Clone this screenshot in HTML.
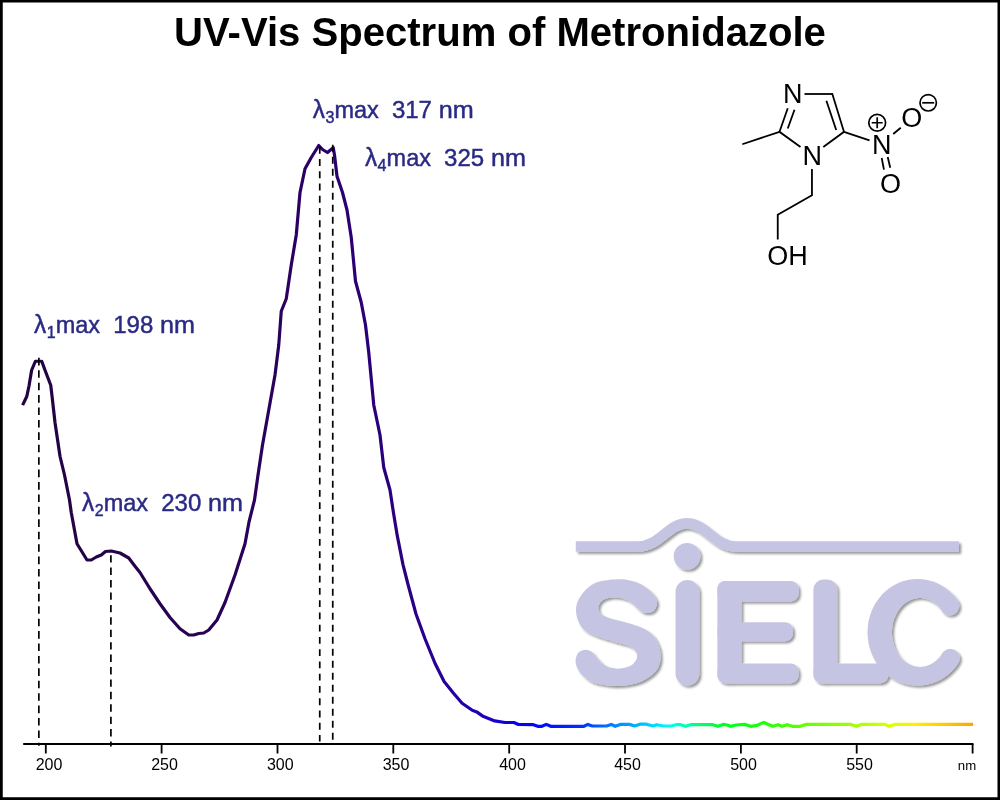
<!DOCTYPE html>
<html><head><meta charset="utf-8">
<style>
html,body{margin:0;padding:0;background:#fff;}
body{width:1000px;height:800px;overflow:hidden;position:relative;font-family:"Liberation Sans",sans-serif;}
svg{position:absolute;left:0;top:0;will-change:transform;}
text{font-family:"Liberation Sans",sans-serif;}
.lbl text{fill:#2a2a84;font-size:22.5px;stroke:#2a2a84;stroke-width:0.45px;}
.lbl .sub{font-size:16px;}
.ax text{font-size:16px;fill:#000;text-anchor:middle;}
.mol line,.mol polyline{stroke:#000;stroke-width:1.8;fill:none;stroke-linecap:butt;}
.mol text{font-size:27px;fill:#000;text-anchor:middle;}
.dash line{stroke:#000;stroke-width:1.7;}
</style></head><body>
<svg width="1000" height="800" viewBox="0 0 1000 800">
<defs>
<linearGradient id="sp" gradientUnits="userSpaceOnUse" x1="0" y1="0" x2="1000" y2="0">
<stop offset="0" stop-color="#22033f"/>
<stop offset="0.15" stop-color="#26024e"/>
<stop offset="0.29" stop-color="#2b005f"/>
<stop offset="0.41" stop-color="#2a0085"/>
<stop offset="0.45" stop-color="#2400a0"/>
<stop offset="0.485" stop-color="#1c00c0"/>
<stop offset="0.51" stop-color="#1000e0"/>
<stop offset="0.525" stop-color="#0600fa"/>
<stop offset="0.55" stop-color="#0410ff"/>
<stop offset="0.58" stop-color="#0030ff"/>
<stop offset="0.60" stop-color="#0060ff"/>
<stop offset="0.62" stop-color="#0090ff"/>
<stop offset="0.64" stop-color="#00b8ff"/>
<stop offset="0.66" stop-color="#00e8ff"/>
<stop offset="0.672" stop-color="#00ffe8"/>
<stop offset="0.69" stop-color="#00ffa0"/>
<stop offset="0.705" stop-color="#00ff60"/>
<stop offset="0.725" stop-color="#00ff20"/>
<stop offset="0.76" stop-color="#18ff08"/>
<stop offset="0.80" stop-color="#60ff00"/>
<stop offset="0.857" stop-color="#a8ff00"/>
<stop offset="0.892" stop-color="#e0ff00"/>
<stop offset="0.915" stop-color="#fff000"/>
<stop offset="0.94" stop-color="#ffd000"/>
<stop offset="0.973" stop-color="#ffa500"/>
</linearGradient>
<filter id="sh" x="-5%" y="-5%" width="110%" height="110%">
<feDropShadow dx="2.2" dy="2.2" stdDeviation="1.3" flood-color="#000" flood-opacity="0.4"/>
</filter>
</defs>
<rect x="0" y="0" width="1000" height="800" fill="#fff"/>
<!-- border -->
<path d="M0 0H1000V800H0Z M2.75 2.5V797.25H997.5V2.5Z" fill="#000" fill-rule="evenodd"/>
<!-- LOGO -->
<g id="logo" filter="url(#sh)" fill="none" stroke="#c5c5e3" stroke-linecap="round" stroke-linejoin="round">
<path d="M575.75 546.5H637C660 546.5 668 523.25 687 523.25C706 523.25 714 546.5 737 546.5H959" stroke-width="10.5" stroke-linecap="butt"/>
<circle cx="687" cy="556.25" r="13.3" fill="#c5c5e3" stroke="none"/>
<line x1="687.4" y1="591.9" x2="687.4" y2="673.6" stroke-width="23.75"/>
<path id="S" d="M617.0 579.3C622.4 579.0 625.9 579.6 630.0 580.4C634.1 581.3 637.6 582.3 641.4 584.5C645.2 586.7 650.1 590.5 652.7 593.4C655.3 596.4 656.6 599.5 657.0 602.0C657.4 604.6 656.3 607.1 655.2 608.9C654.1 610.6 652.1 611.8 650.3 612.4C648.5 613.1 646.3 613.2 644.6 612.9C642.9 612.7 641.4 611.7 640.1 610.8C638.7 609.9 638.2 609.1 636.5 607.6C634.8 606.0 632.7 603.2 630.0 601.6C627.3 599.9 623.5 598.5 620.2 597.8C617.0 597.1 613.6 597.0 610.5 597.5C607.4 598.0 603.6 599.2 601.6 601.1C599.5 602.9 598.3 606.3 598.3 608.5C598.3 610.8 599.5 612.9 601.6 614.6C603.6 616.2 606.3 617.3 610.5 618.6C614.7 620.0 621.6 621.2 626.7 622.7C631.9 624.2 637.0 625.5 641.4 627.6C645.7 629.6 649.8 631.8 652.7 634.9C655.7 638.0 657.6 642.6 658.9 646.2C660.2 649.9 660.5 653.6 660.5 656.8C660.5 660.1 660.2 662.8 658.9 665.7C657.6 668.6 656.2 671.3 652.7 674.2C649.3 677.0 644.1 680.8 638.1 682.8C632.2 684.8 624.3 686.0 617.0 686.0C609.7 686.0 599.9 684.6 594.2 682.8C588.6 681.0 585.7 678.0 582.9 675.5C580.0 673.0 578.4 670.3 577.2 667.7C576.0 665.1 575.4 662.5 575.6 660.1C575.8 657.6 576.7 654.4 578.3 652.7C579.9 651.0 583.1 650.0 585.3 649.8C587.6 649.7 590.0 650.8 591.8 651.9C593.6 653.1 594.5 655.3 595.9 656.8C597.2 658.3 598.0 659.2 599.9 660.9C601.8 662.5 604.1 665.3 607.2 666.6C610.4 667.9 614.8 668.7 618.6 668.7C622.4 668.6 627.0 667.6 630.0 666.1C633.0 664.5 635.4 661.5 636.5 659.2C637.6 657.0 637.2 654.6 636.5 652.7C635.8 650.8 634.3 649.2 632.4 647.9C630.5 646.5 628.2 645.7 625.1 644.6C622.0 643.5 618.3 642.7 613.7 641.4C609.1 640.0 602.4 638.4 597.5 636.5C592.6 634.6 587.7 632.7 584.5 630.0C581.2 627.3 579.4 623.8 578.0 620.2C576.6 616.7 575.9 612.4 576.0 608.9C576.2 605.3 577.1 602.4 578.8 599.1C580.5 595.9 583.0 592.2 586.1 589.4C589.2 586.5 592.4 583.7 597.5 582.1C602.6 580.4 611.6 579.6 617.0 579.3Z" fill="#c5c5e3" stroke="none"/>
<g fill="#c5c5e3" stroke="none">
<rect x="717.4" y="581" width="24" height="102.2" rx="8"/>
<rect x="717.4" y="581" width="81.2" height="20.4" rx="8"/>
<rect x="717.4" y="622.2" width="75.6" height="19" rx="8"/>
<rect x="717.4" y="663.5" width="81.2" height="19.7" rx="8"/>
<rect x="813.4" y="579.6" width="23.8" height="103.6" rx="10"/>
<rect x="813.4" y="663.6" width="75" height="19.6" rx="8"/>
</g>
<mask id="cm" stroke="none" maskUnits="userSpaceOnUse" x="850" y="560" width="130" height="140"><rect x="850" y="560" width="130" height="140" fill="#fff"/><ellipse cx="920.0" cy="632.4" rx="28.2" ry="34.6" fill="#000"/><polygon points="920,632.3 1009.6,552.5 1011.1,710.4" fill="#000"/></mask>
<g fill="#c5c5e3" stroke="none"><ellipse cx="917.5" cy="632.25" rx="50" ry="53.25" mask="url(#cm)"/><circle cx="949.84" cy="605.74" r="9.44"/><circle cx="950.28" cy="658.24" r="9.38"/></g>
</g>
<!-- title -->
<text id="title" x="500" y="45.5" text-anchor="middle" font-weight="bold" font-size="40.1" fill="#000">UV-Vis Spectrum of Metronidazole</text>
<!-- curve -->
<polyline id="curve" points="22.6,405.1 26.75,396.5 29,386 31.6,370.25 35.4,361.25 41.75,361.25 44.75,369.5 50.75,385.25 52.25,398 55,422.5 60,456.25 64.5,475 69.5,500 71.25,512.5 77,543.75 87,560 91.25,560 96.25,557 101.25,555 105.5,551.5 111.25,551 120,553 128.75,558 135,566.25 140,572.5 150,588.75 160,603.75 170,617.5 180,628.75 188.75,635 193.75,635 198.75,633.5 203.75,633 208.75,630 217,620 225,602.5 235,575 245,543.75 249,522 254.5,500 258,475 262.5,445 268.75,410 275,375 278.75,345 281.25,311.25 286.25,298.75 291.25,265 296.25,235 300,192.5 305,168.75 311.25,157.5 318.75,145.5 322.5,149.5 327.5,152.5 333.2,147.6 334.5,155 337,176.25 342.5,192.5 347,210 351.25,237.5 355.5,281.25 361.25,302.5 365.5,325 368.75,352.5 373.75,405 380,435 383.75,467.5 390,490 393.5,513 397.3,535.9 403,564.6 408.1,584.75 416,614 425,638.75 435.1,663.5 444.1,681.5 453.1,692.75 462.1,703.3 472.25,710.3 476.75,711.9 482.4,715.9 494.75,720.9 504.9,722.5 513.9,722.5 518.4,724.5 533.3,724.7 537.7,726.3 541.9,726.3 546.3,724.4 550.7,726.3 584,726.3 587.9,724.4 592.3,726 606.6,726 611.3,724.4 615.2,726.3 620.4,724.4 629.5,724.4 634.7,726 639.9,724.2 646.4,724.2 652.9,726 656.8,724.7 663.3,726 671.1,726 676.3,724.7 680.7,724.7 685.4,726.3 690.6,724.7 712.7,724.7 717.9,726.3 723.1,724.4 727,725 730.9,726.3 736.1,725 744.3,724.4 750.8,726.3 756,725.7 763.8,722.4 769,724.7 772.9,726.3 778.1,724.7 782,726.3 787.2,724.7 792.4,726.3 800.2,726.3 806.7,724.4 850.9,724.4 856.6,726.3 861.3,724.4 884.7,724.4 889.1,726.3 895.1,724.4 973.1,724.4" fill="none" stroke="url(#sp)" stroke-width="3.2" stroke-linejoin="round" stroke-linecap="butt"/>
<!-- dashed -->
<g class="dash">
<line x1="38.85" y1="357.83" x2="38.85" y2="745.8" stroke-dasharray="7.6 4.82"/>
<line x1="110.9" y1="555.2" x2="110.9" y2="746.5" stroke-dasharray="7.4 5.02"/>
<line x1="319.75" y1="146.75" x2="319.75" y2="741.5" stroke-dasharray="6.9 5.355"/>
<line x1="332.75" y1="144.75" x2="332.75" y2="739.8" stroke-dasharray="7 5"/>
</g>
<!-- axis -->
<g class="ax" stroke="none">
<path d="M23.2 744H973.5" stroke="#000" stroke-width="1.8" fill="none"/>
<path d="M45.8 744V753.6M161.6 744V753.6M277.5 744V753.6M393.3 744V753.6M509.2 744V753.6M625 744V753.6M740.9 744V753.6M856.7 744V753.6M972.6 744V753.6" stroke="#000" stroke-width="1.8" fill="none"/>
<text x="49" y="769.8">200</text>
<text x="164.5" y="769.8">250</text>
<text x="280.3" y="769.8">300</text>
<text x="396" y="769.8">350</text>
<text x="512.5" y="769.8">400</text>
<text x="627.5" y="769.8">450</text>
<text x="743.5" y="769.8">500</text>
<text x="859.5" y="769.8">550</text>
<text x="967" y="770.2" style="font-size:13.2px">nm</text>
</g>
<!-- labels -->
<g class="lbl" id="labels">
<text x="34.10" y="333" style="font-size:25px" textLength="12.2" lengthAdjust="spacingAndGlyphs">λ</text><text class="sub" x="46.70" y="338">1</text><text x="55.70" y="333" style="font-size:23px" textLength="44.4" lengthAdjust="spacingAndGlyphs">max</text><text x="113.20" y="333" style="font-size:24px" textLength="40.1" lengthAdjust="spacingAndGlyphs">198</text><text x="160.00" y="333" style="font-size:23.5px" textLength="35" lengthAdjust="spacingAndGlyphs">nm</text>
<text x="82.10" y="511" style="font-size:25px" textLength="12.2" lengthAdjust="spacingAndGlyphs">λ</text><text class="sub" x="94.70" y="516">2</text><text x="103.70" y="511" style="font-size:23px" textLength="44.4" lengthAdjust="spacingAndGlyphs">max</text><text x="161.20" y="511" style="font-size:24px" textLength="40.1" lengthAdjust="spacingAndGlyphs">230</text><text x="208.00" y="511" style="font-size:23.5px" textLength="35" lengthAdjust="spacingAndGlyphs">nm</text>
<text x="312.80" y="118" style="font-size:25px" textLength="12.2" lengthAdjust="spacingAndGlyphs">λ</text><text class="sub" x="325.40" y="123">3</text><text x="334.40" y="118" style="font-size:23px" textLength="44.4" lengthAdjust="spacingAndGlyphs">max</text><text x="391.90" y="118" style="font-size:24px" textLength="40.1" lengthAdjust="spacingAndGlyphs">317</text><text x="438.70" y="118" style="font-size:23.5px" textLength="35" lengthAdjust="spacingAndGlyphs">nm</text>
<text x="365.00" y="166" style="font-size:25px" textLength="12.2" lengthAdjust="spacingAndGlyphs">λ</text><text class="sub" x="377.60" y="171">4</text><text x="386.60" y="166" style="font-size:23px" textLength="44.4" lengthAdjust="spacingAndGlyphs">max</text><text x="444.10" y="166" style="font-size:24px" textLength="40.1" lengthAdjust="spacingAndGlyphs">325</text><text x="490.90" y="166" style="font-size:23.5px" textLength="35" lengthAdjust="spacingAndGlyphs">nm</text>
</g>
<!-- molecule -->
<g class="mol" id="mol">
<line x1="804.5" y1="94" x2="832.4" y2="94"/>
<polyline points="832.1,93.2 844,131.8 823.3,146.95"/>
<line x1="826.4" y1="100.75" x2="836.2" y2="130"/>
<polyline points="800.5,146.95 779.5,131.8 787.75,108.25"/>
<line x1="787.75" y1="128.5" x2="794.5" y2="109.75"/>
<line x1="779.5" y1="131.8" x2="742.3" y2="144.25"/>
<line x1="844" y1="131.8" x2="869.5" y2="140.3"/>
<line x1="893.25" y1="134" x2="900.75" y2="127.7"/>
<line x1="881.7" y1="158" x2="883.95" y2="169.55"/>
<line x1="887.7" y1="156.95" x2="890.25" y2="167.75"/>
<polyline points="811.95,169 811.95,195.25 777.75,214.75 777.75,239.5"/>
<text x="792.7" y="103.3">N</text>
<text x="812.2" y="164.8">N</text>
<text x="881.85" y="153.5">N</text>
<text x="911.7" y="127.4">O</text>
<text x="890.4" y="193">O</text>
<text x="767.3" y="264.5" style="text-anchor:start">OH</text>
<circle cx="877.2" cy="122.75" r="8.4" fill="none" stroke="#000" stroke-width="1.7"/>
<path d="M871.7 122.75H882.7M877.2 117.25V128.25" stroke="#000" stroke-width="1.7" fill="none"/>
<circle cx="928.2" cy="102.8" r="8.2" fill="none" stroke="#000" stroke-width="1.7"/>
<path d="M922.2 102.8H934.2" stroke="#000" stroke-width="1.7" fill="none"/>
</g>
</svg>
</body></html>
